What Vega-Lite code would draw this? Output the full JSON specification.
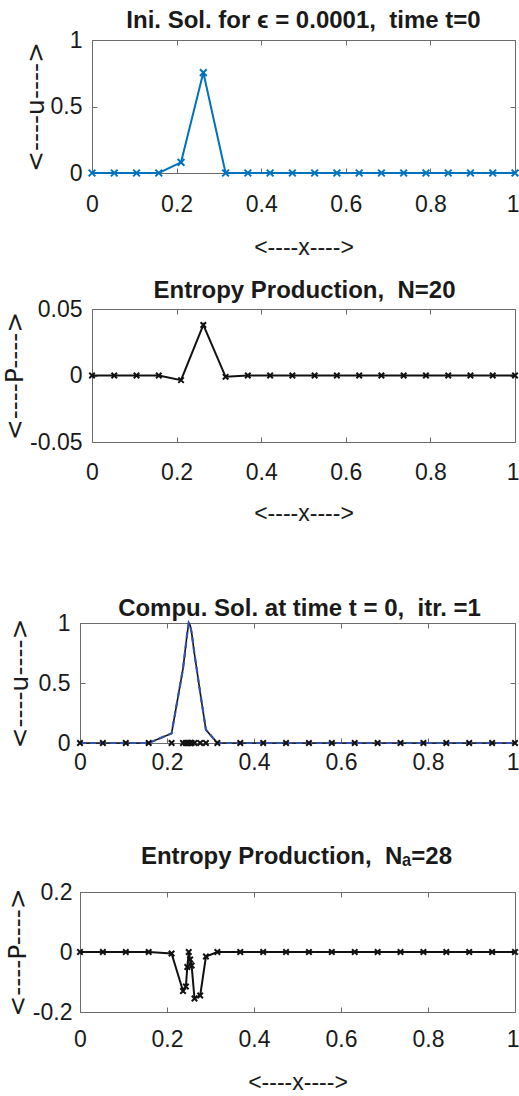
{
  "$schema": "https://vega.github.io/schema/vega-lite/v6.json",
  "autosize": {"type": "none"},
  "padding": {"left": 80, "top": 40, "right": 439, "bottom": 1056},
  "background": "white",
  "config": {
    "view": {"stroke": null},
    "axis": {
      "grid": false,
      "domainColor": "#6a6a6a",
      "tickColor": "#6a6a6a",
      "tickSize": -5,
      "domainWidth": 1,
      "labelFont": "Liberation Sans",
      "labelFontSize": 23,
      "labelColor": "#1a1a1a",
      "labelFlush": false,
      "labelOverlap": false,
      "titleFontWeight": "normal",
      "titleColor": "#1a1a1a"
    },
    "axisBottom": {
      "labelAlign": {"condition": {"test": "datum.value === 1", "value": "right"}, "value": "center"},
      "labelOffset": {"condition": {"test": "datum.value === 1", "value": 4}, "value": 0}
    },
    "title": {"font": "Liberation Sans", "fontSize": 24, "fontWeight": "bold", "color": "#1a1a1a", "frame": "group", "baseline": "alphabetic"}
  },
  "datasets": {
    "uni": [
      {"x": 0, "u": 0, "P": 0},
      {"x": 0.0526, "u": 0, "P": 0},
      {"x": 0.1053, "u": 0, "P": 0},
      {"x": 0.1579, "u": 0, "P": 0},
      {"x": 0.2105, "u": 0.08, "P": -0.0035},
      {"x": 0.2632, "u": 0.755, "P": 0.038},
      {"x": 0.3158, "u": 0, "P": -0.001},
      {"x": 0.3684, "u": 0, "P": 0},
      {"x": 0.4211, "u": 0, "P": 0},
      {"x": 0.4737, "u": 0, "P": 0},
      {"x": 0.5263, "u": 0, "P": 0},
      {"x": 0.5789, "u": 0, "P": 0},
      {"x": 0.6316, "u": 0, "P": 0},
      {"x": 0.6842, "u": 0, "P": 0},
      {"x": 0.7368, "u": 0, "P": 0},
      {"x": 0.7895, "u": 0, "P": 0},
      {"x": 0.8421, "u": 0, "P": 0},
      {"x": 0.8947, "u": 0, "P": 0},
      {"x": 0.9474, "u": 0, "P": 0},
      {"x": 1, "u": 0, "P": 0}
    ],
    "adapt": [
      {"x": 0, "u": 0, "ue": 0, "P": 0},
      {"x": 0.0526, "u": 0, "ue": 0, "P": 0},
      {"x": 0.1053, "u": 0, "ue": 0, "P": 0},
      {"x": 0.1579, "u": 0, "ue": 0, "P": 0},
      {"x": 0.2105, "u": 0.08, "ue": 0.08, "P": -0.005},
      {"x": 0.2368, "u": 0.62, "ue": 0.62, "P": -0.13},
      {"x": 0.2434, "u": 0.82, "ue": 0.82, "P": -0.115},
      {"x": 0.2467, "u": 0.92, "ue": 0.92, "P": -0.05},
      {"x": 0.25, "u": 1.0, "ue": 1.0, "P": 0.0},
      {"x": 0.2533, "u": 0.98, "ue": 0.98, "P": -0.025},
      {"x": 0.2566, "u": 0.92, "ue": 0.92, "P": -0.045},
      {"x": 0.2632, "u": 0.74, "ue": 0.74, "P": -0.155},
      {"x": 0.2763, "u": 0.42, "ue": 0.42, "P": -0.145},
      {"x": 0.2895, "u": 0.11, "ue": 0.11, "P": -0.015},
      {"x": 0.3158, "u": 0, "ue": 0, "P": 0},
      {"x": 0.3684, "u": 0, "ue": 0, "P": 0},
      {"x": 0.4211, "u": 0, "ue": 0, "P": 0},
      {"x": 0.4737, "u": 0, "ue": 0, "P": 0},
      {"x": 0.5263, "u": 0, "ue": 0, "P": 0},
      {"x": 0.5789, "u": 0, "ue": 0, "P": 0},
      {"x": 0.6316, "u": 0, "ue": 0, "P": 0},
      {"x": 0.6842, "u": 0, "ue": 0, "P": 0},
      {"x": 0.7368, "u": 0, "ue": 0, "P": 0},
      {"x": 0.7895, "u": 0, "ue": 0, "P": 0},
      {"x": 0.8421, "u": 0, "ue": 0, "P": 0},
      {"x": 0.8947, "u": 0, "ue": 0, "P": 0},
      {"x": 0.9474, "u": 0, "ue": 0, "P": 0},
      {"x": 1, "u": 0, "ue": 0, "P": 0}
    ]
  },
  "bounds": "flush",
  "spacing": 583,
  "vconcat": [
    {
      "bounds": "flush",
      "spacing": 136,
      "vconcat": [
        {
          "width": 435,
          "height": 133,
          "title": {"text": "Ini. Sol. for ϵ = 0.0001, \u00a0time t=0", "offset": -4, "dx": 6},
          "data": {"name": "uni"},
          "layer": [
            {
              "mark": {"type": "line", "color": "#0072BD", "strokeWidth": 2},
              "encoding": {
                "x": {"field": "x", "type": "quantitative", "scale": {"domain": [0, 1], "range": [12, 435], "nice": false, "zero": false},
                  "axis": {"orient": "bottom", "values": [0, 0.2, 0.4, 0.6, 0.8, 1], "format": "~g", "labelPadding": 25, "title": "<----x---->", "titleFont": "Liberation Sans", "titleFontSize": 23, "titlePadding": 20}},
                "y": {"field": "u", "type": "quantitative", "scale": {"domain": [0, 1], "nice": false},
                  "axis": {"orient": "left", "values": [0, 0.5, 1], "format": "~g", "labelPadding": 15, "offset": -12, "title": "<----u---->", "titleFont": "DejaVu Sans", "titleFontSize": 25, "titlePadding": 2}}
              }
            },
            {
              "mark": {"type": "point", "shape": "M-1,-1L1,1M-1,1L1,-1", "size": 45, "filled": false, "color": "#0072BD", "strokeWidth": 2, "opacity": 1},
              "encoding": {
                "x": {"field": "x", "type": "quantitative", "axis": {"orient": "top", "values": [0, 0.2, 0.4, 0.6, 0.8, 1], "labels": false, "title": null}},
                "y": {"field": "u", "type": "quantitative", "axis": {"orient": "right", "values": [0, 0.5, 1], "labels": false, "title": null}}
              }
            }
          ],
          "resolve": {"axis": {"x": "independent", "y": "independent"}}
        },
        {
          "width": 435,
          "height": 133,
          "title": {"text": "Entropy Production, \u00a0N=20", "offset": -5, "dx": 7},
          "data": {"name": "uni"},
          "layer": [
            {
              "mark": {"type": "line", "color": "#111111", "strokeWidth": 2},
              "encoding": {
                "x": {"field": "x", "type": "quantitative", "scale": {"domain": [0, 1], "range": [12, 435], "nice": false, "zero": false},
                  "axis": {"orient": "bottom", "values": [0, 0.2, 0.4, 0.6, 0.8, 1], "format": "~g", "labelPadding": 24, "title": "<----x---->", "titleFont": "Liberation Sans", "titleFontSize": 23, "titlePadding": 18}},
                "y": {"field": "P", "type": "quantitative", "scale": {"domain": [-0.05, 0.05], "nice": false},
                  "axis": {"orient": "left", "values": [-0.05, 0, 0.05], "format": "~g", "labelExpr": "replace(datum.label, '\u2212', '-')", "labelPadding": 15, "offset": -12, "title": "<----P---->", "titleFont": "DejaVu Sans", "titleFontSize": 25, "titlePadding": 2}}
              }
            },
            {
              "mark": {"type": "point", "shape": "M-1,-1L1,1M-1,1L1,-1", "size": 30, "filled": false, "color": "#111111", "strokeWidth": 2, "opacity": 1},
              "encoding": {
                "x": {"field": "x", "type": "quantitative", "axis": {"orient": "top", "values": [0, 0.2, 0.4, 0.6, 0.8, 1], "labels": false, "title": null}},
                "y": {"field": "P", "type": "quantitative", "axis": {"orient": "right", "values": [-0.05, 0, 0.05], "labels": false, "title": null}}
              }
            }
          ],
          "resolve": {"axis": {"x": "independent", "y": "independent"}}
        }
      ]
    },
    {
      "bounds": "flush",
      "spacing": 149,
      "vconcat": [
        {
          "width": 435,
          "height": 120,
          "title": {"text": "Compu. Sol. at time t = 0, \u00a0itr. =1", "offset": -9, "dx": 2},
          "data": {"name": "adapt"},
          "layer": [
            {
              "mark": {"type": "line", "color": "#111111", "strokeWidth": 1.6},
              "encoding": {
                "x": {"field": "x", "type": "quantitative", "scale": {"domain": [0, 1], "nice": false, "zero": false},
                  "axis": {"orient": "bottom", "values": [0, 0.2, 0.4, 0.6, 0.8, 1], "format": "~g", "labelPadding": 13, "title": null}},
                "y": {"field": "u", "type": "quantitative", "scale": {"domain": [0, 1], "nice": false},
                  "axis": {"orient": "left", "values": [0, 0.5, 1], "format": "~g", "labelPadding": 15, "title": "<----u---->", "titleFont": "DejaVu Sans", "titleFontSize": 25, "titlePadding": 6}}
              }
            },
            {
              "mark": {"type": "line", "color": "#3352b0", "strokeWidth": 2.2, "strokeDash": [6, 4]},
              "encoding": {
                "x": {"field": "x", "type": "quantitative", "axis": null},
                "y": {"field": "ue", "type": "quantitative", "axis": null}
              }
            },
            {
              "mark": {"type": "point", "shape": "M-1,-1L1,1M-1,1L1,-1", "size": 30, "filled": false, "color": "#111111", "strokeWidth": 2, "opacity": 1},
              "encoding": {
                "x": {"field": "x", "type": "quantitative", "axis": {"orient": "top", "values": [0, 0.2, 0.4, 0.6, 0.8, 1], "labels": false, "title": null}},
                "y": {"datum": 0, "type": "quantitative", "axis": {"orient": "right", "values": [0, 0.5, 1], "labels": false, "title": null}}
              }
            }
          ],
          "resolve": {"axis": {"x": "independent", "y": "independent"}}
        },
        {
          "width": 435,
          "height": 120,
          "title": {"text": "Entropy Production, \u00a0Nₐ=28", "offset": 12, "dx": -1},
          "data": {"name": "adapt"},
          "layer": [
            {
              "mark": {"type": "line", "color": "#111111", "strokeWidth": 2},
              "encoding": {
                "x": {"field": "x", "type": "quantitative", "scale": {"domain": [0, 1], "nice": false, "zero": false},
                  "axis": {"orient": "bottom", "values": [0, 0.2, 0.4, 0.6, 0.8, 1], "format": "~g", "labelPadding": 21, "title": "<----x---->", "titleFont": "Liberation Sans", "titleFontSize": 23, "titlePadding": 20}},
                "y": {"field": "P", "type": "quantitative", "scale": {"domain": [-0.2, 0.2], "nice": false},
                  "axis": {"orient": "left", "values": [-0.2, 0, 0.2], "format": "~g", "labelExpr": "replace(datum.label, '\u2212', '-')", "labelPadding": 13, "title": "<----P---->", "titleFont": "DejaVu Sans", "titleFontSize": 25, "titlePadding": 2}}
              }
            },
            {
              "mark": {"type": "point", "shape": "M-1,-1L1,1M-1,1L1,-1", "size": 30, "filled": false, "color": "#111111", "strokeWidth": 2, "opacity": 1},
              "encoding": {
                "x": {"field": "x", "type": "quantitative", "axis": {"orient": "top", "values": [0, 0.2, 0.4, 0.6, 0.8, 1], "labels": false, "title": null}},
                "y": {"field": "P", "type": "quantitative", "axis": {"orient": "right", "values": [-0.2, 0, 0.2], "labels": false, "title": null}}
              }
            }
          ],
          "resolve": {"axis": {"x": "independent", "y": "independent"}}
        }
      ]
    }
  ]
}
